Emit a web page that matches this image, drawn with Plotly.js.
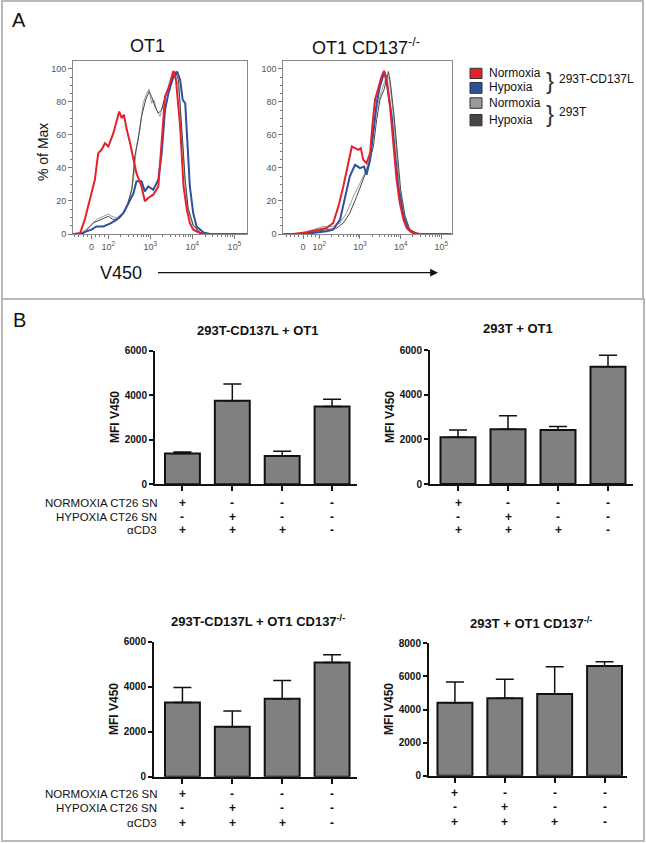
<!DOCTYPE html>
<html><head><meta charset="utf-8">
<script src="https://cdn.plot.ly/plotly-3.0.1.min.js"></script>
<style>html,body{margin:0;padding:0;background:#fff;}#chart{width:646px;height:843px;}</style>
</head><body><div id="chart"></div>
<script>
// ---------- Panel A: histograms (x = display decade of V450, y = % of Max) ----------
const histTickVals = [1.6, 2, 3, 4, 5];
const histTickText = ['0', '10<sup>2</sup>', '10<sup>3</sup>', '10<sup>4</sup>', '10<sup>5</sup>'];
const histYTicks = [0, 20, 40, 60, 80, 100];

// OT1 panel
const ot1NormCD137L_x = [1.16,1.18,1.33,1.44,1.56,1.68,1.76,1.84,1.92,2.00,2.12,2.20,2.26,2.32,2.37,2.44,2.52,2.60,2.67,2.79,2.87,2.95,3.07,3.19,3.27,3.35,3.43,3.51,3.55,3.61,3.71,3.79,3.87,3.94,4.02,4.18,4.34,5.30];
const ot1NormCD137L_y = [0,0,0.6,8.7,20.8,32.9,49.0,51.0,55.0,53.0,61.1,69.2,74.2,70.2,72.2,63.1,55.0,45.0,36.9,28.8,19.8,21.8,23.8,28.8,57.1,83.3,88.3,96.4,98.8,93.3,65.1,28.8,14.7,6.7,2.6,0.6,0,0];
const ot1HypCD137L_x = [1.16,1.33,1.48,1.60,1.72,1.88,2.04,2.20,2.36,2.48,2.60,2.67,2.79,2.87,2.95,3.07,3.19,3.27,3.35,3.43,3.55,3.64,3.71,3.77,3.83,3.87,3.94,4.02,4.10,4.26,4.42,5.30];
const ot1HypCD137L_y = [0,0,1.6,2.6,4.6,4.6,6.3,8.7,12.7,18.8,24.8,31.9,31.9,25.8,28.8,26.8,32.9,49.0,75.2,85.3,95.4,98.4,93.3,81.3,79.2,61.1,28.8,12.7,4.6,1.0,0,0];
const ot1Norm293T_x = [1.16,1.33,1.56,1.72,1.88,2.00,2.08,2.20,2.36,2.48,2.60,2.67,2.75,2.83,2.91,2.97,3.03,3.09,3.15,3.23,3.31,3.39,3.51,3.59,3.67,3.75,3.83,3.90,4.02,4.18,4.34,5.30];
const ot1Norm293T_y = [0,0,4.6,8.7,10.7,12.1,10.7,9.7,12.7,18.8,32.9,53.0,63.1,79.2,85.3,87.7,79.2,81.3,75.2,71.2,79.2,85.3,93.3,96.4,89.3,61.1,28.8,14.7,4.6,0.6,0,0];
const ot1Hyp293T_x = [1.16,1.40,1.64,1.88,2.00,2.12,2.28,2.44,2.56,2.63,2.71,2.79,2.89,2.97,3.03,3.11,3.19,3.27,3.35,3.47,3.59,3.67,3.75,3.83,3.90,4.02,4.18,4.34,5.30];
const ot1Hyp293T_y = [0,0,6.7,9.7,10.7,8.7,9.7,16.7,26.8,47.0,57.1,71.2,81.3,86.3,83.3,77.2,73.2,75.2,83.3,91.3,98.4,93.3,65.1,32.9,15.7,5.6,1.0,0,0];

// OT1 CD137-/- panel
const koNormCD137L_x = [1.12,1.36,1.69,2.02,2.18,2.34,2.47,2.59,2.69,2.80,2.88,2.96,3.02,3.08,3.16,3.25,3.31,3.37,3.45,3.53,3.59,3.66,3.74,3.82,3.90,3.98,4.07,4.15,4.27,4.48,5.25];
const koNormCD137L_y = [0,0,1.0,2.6,3.6,6.7,16.7,28.8,40.9,53.0,52.0,51.0,52.0,45.0,42.9,49.0,67.1,81.3,88.3,95.4,98.8,93.3,77.2,55.0,32.9,18.8,8.7,3.6,1.0,0,0];
const koHypCD137L_x = [1.12,1.69,2.18,2.34,2.51,2.63,2.75,2.88,3.00,3.10,3.16,3.25,3.33,3.41,3.49,3.60,3.67,3.78,3.86,3.94,4.07,4.19,4.35,5.25];
const koHypCD137L_y = [0,0.2,1.6,2.6,8.7,22.8,34.9,41.9,39.9,40.9,35.9,45.0,63.1,79.2,89.3,98.4,89.3,71.2,49.0,28.8,10.7,2.6,0,0];
const koNorm293T_x = [1.12,1.52,1.85,2.10,2.34,2.51,2.67,2.84,3.00,3.12,3.25,3.33,3.41,3.49,3.57,3.66,3.72,3.80,3.89,3.97,4.07,4.19,4.39,5.25];
const koNorm293T_y = [0,0.2,2.6,4.6,4.6,6.7,12.7,22.8,30.8,36.9,47.0,61.1,75.2,83.3,89.3,96.4,93.3,77.2,53.0,28.8,12.7,3.6,0.2,0];
const koHyp293T_x = [1.12,1.61,1.93,2.18,2.43,2.59,2.75,2.92,3.08,3.20,3.33,3.41,3.49,3.59,3.70,3.75,3.84,3.92,4.00,4.11,4.23,4.43,5.25];
const koHyp293T_y = [0,0,1.6,2.6,3.6,6.7,12.7,22.8,32.9,40.9,53.0,69.2,81.3,87.3,98.4,91.3,71.2,47.0,26.8,10.7,2.6,0,0];

// ---------- Panel B: bar charts (MFI V450) ----------
const conditions = [0, 1, 2, 3];
const rowLabels = ['NORMOXIA CT26 SN', 'HYPOXIA CT26 SN', 'αCD3'];
const normoxiaSN = ['+', '-', '-', '-'];
const hypoxiaSN = ['-', '+', '-', '-'];
const antiCD3 = ['+', '+', '+', '-'];

const cd137lOT1_mean = [1380, 3750, 1275, 3495];
const cd137lOT1_err = [75, 750, 210, 320];
const t293OT1_mean = [2090, 2450, 2420, 5250];
const t293OT1_err = [330, 610, 150, 520];
const cd137lKO_mean = [3300, 2220, 3470, 5070];
const cd137lKO_err = [670, 700, 800, 350];
const t293KO_mean = [4410, 4680, 4940, 6630];
const t293KO_err = [1250, 1150, 1650, 260];

const barTicks68 = [0, 2000, 4000, 6000];
const barTicks8 = [0, 2000, 4000, 6000, 8000];

// ---------- helpers ----------
const W = 646, H = 843;
const PX = p => p / W;
const PY = p => 1 - p / H;
const FONT = 'Liberation Sans, Arial, sans-serif';
const RED = '#e3222b', BLUE = '#2f4f9f', LGRAY = '#9a9a9a', DGRAY = '#474747';

function histTrace(x, y, color, width, xa, ya) {
  return {type: 'scatter', mode: 'lines', x: x, y: y, xaxis: xa, yaxis: ya,
    line: {color: color, width: width}, hoverinfo: 'skip', showlegend: false};
}
function barTrace(mean, err, xa, ya) {
  return {type: 'bar', x: conditions, y: mean, xaxis: xa, yaxis: ya, width: 0.7,
    marker: {color: '#808080', line: {color: '#111', width: 2}},
    error_y: {type: 'data', symmetric: false, array: err, arrayminus: err.map(() => 0),
      color: '#111', thickness: 1.5, width: 9},
    showlegend: false, hoverinfo: 'skip'};
}

const data = [
  histTrace(ot1Norm293T_x, ot1Norm293T_y, LGRAY, 1, 'x', 'y'),
  histTrace(ot1Hyp293T_x, ot1Hyp293T_y, DGRAY, 1, 'x', 'y'),
  histTrace(ot1HypCD137L_x, ot1HypCD137L_y, BLUE, 2, 'x', 'y'),
  histTrace(ot1NormCD137L_x, ot1NormCD137L_y, RED, 2, 'x', 'y'),
  histTrace(koNorm293T_x, koNorm293T_y, LGRAY, 1, 'x2', 'y2'),
  histTrace(koHyp293T_x, koHyp293T_y, DGRAY, 1, 'x2', 'y2'),
  histTrace(koHypCD137L_x, koHypCD137L_y, BLUE, 2, 'x2', 'y2'),
  histTrace(koNormCD137L_x, koNormCD137L_y, RED, 2, 'x2', 'y2'),
  barTrace(cd137lOT1_mean, cd137lOT1_err, 'x3', 'y3'),
  barTrace(t293OT1_mean, t293OT1_err, 'x4', 'y4'),
  barTrace(cd137lKO_mean, cd137lKO_err, 'x5', 'y5'),
  barTrace(t293KO_mean, t293KO_err, 'x6', 'y6')
];

// minor tick positions for the biexponential axis
const minorX = [];
[1.2, 1.3, 1.4, 1.5, 1.7, 1.8, 1.9].forEach(v => minorX.push(v));
for (let d = 2; d <= 4; d++) for (let k = 2; k <= 9; k++) minorX.push(d + Math.log10(k));

function histX(domain, range, anchor) {
  return {domain: domain, range: range, anchor: anchor, showline: true, mirror: true,
    linecolor: '#8a8a8a', linewidth: 1, ticks: 'outside', ticklen: 4, tickcolor: '#777', tickwidth: 1,
    tickmode: 'array', tickvals: histTickVals, ticktext: histTickText,
    tickfont: {family: FONT, size: 9, color: '#555'}, showgrid: false, zeroline: false,
    minor: {tickmode: 'array', tickvals: minorX, ticks: 'outside', ticklen: 2, tickcolor: '#777', showgrid: false}};
}
function histY(domain, anchor) {
  return {domain: domain, range: [0, 104.8], anchor: anchor, showline: true, mirror: true,
    linecolor: '#8a8a8a', linewidth: 1, ticks: 'outside', ticklen: 4, tickcolor: '#777',
    tickmode: 'array', tickvals: histYTicks,
    tickfont: {family: FONT, size: 9, color: '#555'}, showgrid: false, zeroline: false,
    minor: {dtick: 5, ticks: 'outside', ticklen: 2, tickcolor: '#777', showgrid: false}};
}
function barX(domain, range, anchor) {
  return {domain: domain, range: range, anchor: anchor, showline: true, linecolor: '#111', linewidth: 2,
    ticks: 'outside', ticklen: 5, tickwidth: 2, tickcolor: '#111', tickmode: 'array', tickvals: conditions,
    showticklabels: false, showgrid: false, zeroline: false};
}
function barY(domain, range, ticks, anchor) {
  return {domain: domain, range: range, anchor: anchor, showline: true, linecolor: '#111', linewidth: 2,
    ticks: 'outside', ticklen: 4, tickwidth: 2, tickcolor: '#111', tickmode: 'array', tickvals: ticks,
    tickfont: {family: FONT, size: 10, color: '#111', weight: 'bold'},
    showgrid: false, zeroline: false};
}

const ann = [];
function txt(x, y, text, size, opts) {
  ann.push(Object.assign({x: PX(x), y: PY(y), xref: 'paper', yref: 'paper', text: text, showarrow: false,
    font: {family: FONT, size: size, color: '#111'}, xanchor: 'center', yanchor: 'middle'}, opts || {}));
}
// Panel letters
txt(19, 20, 'A', 20);
txt(19, 320, 'B', 20);
// Panel A titles
txt(147, 46, 'OT1', 18);
txt(366, 46, 'OT1 CD137<sup>-/-</sup>', 18);
txt(43, 152, '% of Max', 14, {textangle: -90});
txt(121, 273, 'V450', 18);
// arrow
ann.push({x: PX(438), y: PY(272.7), xref: 'paper', yref: 'paper', ax: -283, ay: 0, axref: 'pixel', ayref: 'pixel',
  showarrow: true, arrowhead: 2, arrowsize: 1.3, arrowwidth: 1.2, arrowcolor: '#111', text: ' '});
// legend
const legendNames = ['Normoxia', 'Hypoxia', 'Normoxia', 'Hypoxia'];
const legendColors = [RED, BLUE, LGRAY, DGRAY];
const legendY = [73.3, 87.8, 103, 120];
legendNames.forEach((n, i) => txt(487, legendY[i] - 0.5, n, 12, {xanchor: 'left'}));
txt(550, 80, '}', 24, {font: {family: FONT, size: 24, color: '#333'}});
txt(550, 113, '}', 24, {font: {family: FONT, size: 24, color: '#333'}});
txt(557, 79, '293T-CD137L', 12, {xanchor: 'left'});
txt(557, 112, '293T', 12, {xanchor: 'left'});

// Panel B titles
const bold = (x, y, t, s, o) => txt(x, y, t, s, Object.assign({font: {family: FONT, size: s, color: '#111', weight: 'bold'}}, o || {}));
bold(257.5, 330, '293T-CD137L + OT1', 13);
bold(518, 328, '293T + OT1', 13);
bold(257.5, 621, '293T-CD137L + OT1 CD137<sup>-/-</sup>', 13);
bold(531, 623, '293T + OT1 CD137<sup>-/-</sup>', 13);
bold(115, 417, 'MFI V450', 12, {textangle: -90});
bold(390, 417, 'MFI V450', 12, {textangle: -90});
bold(114, 709, 'MFI V450', 12, {textangle: -90});
bold(389, 709, 'MFI V450', 12, {textangle: -90});

// condition rows
function rows(xref, ys, withLabels, labelX) {
  const sets = [normoxiaSN, hypoxiaSN, antiCD3];
  sets.forEach((arr, r) => {
    arr.forEach((s, i) => {
      ann.push({x: conditions[i], y: PY(ys[r]), xref: xref, yref: 'paper', text: s, showarrow: false,
        font: {family: FONT, size: 12, color: '#111', weight: 'bold'}, xanchor: 'center', yanchor: 'middle',
        borderpad: 0});
    });
    if (withLabels) txt(labelX, ys[r], rowLabels[r], 11.5, {xanchor: 'right', borderpad: 0});
  });
}
rows('x3', [503, 516.5, 530], true, 157.5);
rows('x4', [503, 516.5, 530], false);
rows('x5', [793.5, 808, 822.5], true, 157.5);
rows('x6', [792.5, 807, 821.5], false);

const shapes = [
  {type: 'rect', xref: 'paper', yref: 'paper', x0: PX(2), x1: PX(643), y0: PY(1), y1: PY(299), line: {color: '#b8b8b8', width: 2}},
  {type: 'rect', xref: 'paper', yref: 'paper', x0: PX(2), x1: PX(644), y0: PY(299), y1: PY(841), line: {color: '#b8b8b8', width: 2}}
];
const legendBoxY = [[68.3, 78.5], [82.5, 93.3], [97.8, 108.3], [114.5, 125.8]];
legendColors.forEach((c, i) => shapes.push({type: 'rect', xref: 'paper', yref: 'paper',
  x0: PX(470), x1: PX(482), y0: PY(legendBoxY[i][1]), y1: PY(legendBoxY[i][0]),
  fillcolor: c, line: {color: '#333', width: 1}}));

const layout = {
  width: W, height: H, margin: {l: 0, r: 0, t: 0, b: 0}, paper_bgcolor: '#fff', plot_bgcolor: 'rgba(0,0,0,0)',
  showlegend: false, font: {family: FONT},
  xaxis: histX([PX(73), PX(247)], [1.16, 5.30], 'y'),
  yaxis: histY([PY(234), PY(61)], 'x'),
  xaxis2: histX([PX(283.3), PX(451.5)], [1.115, 5.25], 'y2'),
  yaxis2: histY([PY(234), PY(61)], 'x2'),
  xaxis3: barX([PX(155), PX(357)], [-0.55, 3.5], 'y3'),
  yaxis3: barY([PY(484.3), PY(350.7)], [0, 6000], barTicks68, 'x3'),
  xaxis4: barX([PX(430), PX(633)], [-0.56, 3.5], 'y4'),
  yaxis4: barY([PY(484), PY(350)], [0, 6000], barTicks68, 'x4'),
  xaxis5: barX([PX(154), PX(357)], [-0.57, 3.5], 'y5'),
  yaxis5: barY([PY(776.7), PY(641.7)], [0, 6000], barTicks68, 'x5'),
  xaxis6: barX([PX(429), PX(627)], [-0.52, 3.45], 'y6'),
  yaxis6: barY([PY(775.7), PY(643.3)], [0, 8000], barTicks8, 'x6'),
  annotations: ann, shapes: shapes
};
Plotly.newPlot('chart', data, layout, {staticPlot: true, displayModeBar: false});
</script></body></html>
